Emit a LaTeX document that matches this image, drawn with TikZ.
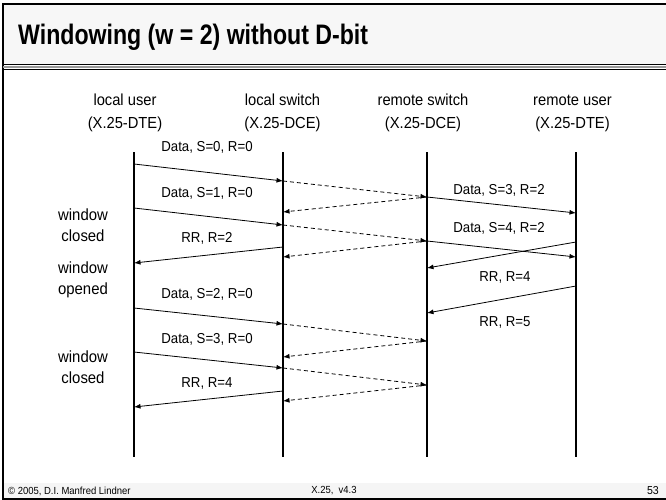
\documentclass[tikz,border=0pt]{standalone}
\usepackage{fontspec}
\setmainfont{Liberation Sans}[FakeStretch=0.92]
\newfontfamily\titlefont{Liberation Sans}[FakeStretch=0.82]
\usetikzlibrary{arrows.meta}
\begin{document}
\begin{tikzpicture}[x=1pt,y=-1pt,
  lifeline/.style={line width=1.8pt},
  msg/.style={line width=0.8pt,-{Latex[length=6.5pt,width=5pt]}},
  relay/.style={msg,dash pattern=on 4pt off 3pt},
  lbl/.style={font=\fontsize{14.4}{16}\selectfont,inner sep=0pt},
  hdr/.style={font=\fontsize{16}{23}\selectfont,align=center,inner sep=0pt},
  side/.style={font=\fontsize{16.2}{20.5}\selectfont,align=center,inner sep=0pt},
  foot/.style={font=\fontsize{10.3}{11}\selectfont,inner sep=0pt}]
\useasboundingbox (0,0) rectangle (666,500);

% slide frame, title bar and footer strip
\fill[black!3] (3,4) rectangle (666,64);
\fill[black!4] (4,483) rectangle (666,498);
\draw[line width=2pt] (666,4) -- (3,4) -- (3,499) -- (666,499);
\draw[line width=1.5pt] (3,64.5) -- (666,64.5);
\draw[line width=1.4pt, black!40] (3,67) -- (666,67);
\draw[line width=1.5pt] (3,69.5) -- (666,69.5);

\node[anchor=base west, inner sep=0pt,
      font=\titlefont\bfseries\fontsize{28.2}{32}\selectfont] (title) at (18,45)
  {Windowing (w = 2) without D-bit};

% stations
\node[hdr] (hu) at (125,112.5) {\strut local user\\\strut(X.25-DTE)};
\node[hdr] (hs) at (282.5,112.5) {\strut local switch\\\strut(X.25-DCE)};
\node[hdr] (hr) at (423,112.5) {\strut remote switch\\\strut(X.25-DCE)};
\node[hdr] (hd) at (572.5,112.5) {\strut remote user\\\strut(X.25-DTE)};

% lifelines
\foreach \n/\x in {u/134, s/283, r/427, d/576} {
  \coordinate (\n top) at (\x,152);
  \coordinate (\n bot) at (\x,457);
  \draw[lifeline] (\n top) -- (\n bot);
}

% event points on the lifelines
\foreach \y in {164,208,263,308,352,407} \coordinate (u\y) at (134,\y);
\foreach \y in {181,212,225,247,257,324,357,368,391,401} \coordinate (s\y) at (283,\y);
\foreach \y in {197,241,268,313,341,385} \coordinate (r\y) at (427,\y);
\foreach \y in {213,242,257,286} \coordinate (d\y) at (576,\y);

% first window
\draw[msg] (u164) -- (s181);
\draw[relay] (s181) -- (r197);
\draw[msg] (r197) -- (d213);
\draw[relay] (r197) -- (s212);
\draw[msg] (u208) -- (s225);
\draw[relay] (s225) -- (r241);
\draw[relay] (r241) -- (s257);
\draw[msg] (r241) -- (d257);
\draw[msg] (s247) -- (u263);
\draw[msg] (d242) -- (r268);
\draw[msg] (d286) -- (r313);

% second window
\draw[msg] (u308) -- (s324);
\draw[relay] (s324) -- (r341);
\draw[relay] (r341) -- (s357);
\draw[msg] (u352) -- (s368);
\draw[relay] (s368) -- (r385);
\draw[relay] (r385) -- (s401);
\draw[msg] (s391) -- (u407);

% packet labels
\node[lbl] (l1) at (207,147) {Data, S=0, R=0};
\node[lbl] (l2) at (207,193) {Data, S=1, R=0};
\node[lbl] (l3) at (207,238) {RR, R=2};
\node[lbl] (l4) at (207,294) {Data, S=2, R=0};
\node[lbl] (l5) at (207,339) {Data, S=3, R=0};
\node[lbl] (l6) at (207,383) {RR, R=4};
\node[lbl] (r1) at (499,190) {Data, S=3, R=2};
\node[lbl] (r2) at (499,228) {Data, S=4, R=2};
\node[lbl] (r3) at (505,277) {RR, R=4};
\node[lbl] (r4) at (505,322) {RR, R=5};

% window state notes
\node[side] (w1) at (83,225) {window\\closed};
\node[side] (w2) at (83,280) {window\\opened};
\node[side] (w3) at (83,367) {window\\closed};

% footer
\node[foot, anchor=west] (f1) at (8,491) {© 2005, D.I. Manfred Lindner};
\node[foot] (f2) at (334,491) {X.25,\ \ v4.3};
\node[foot, anchor=east, font=\fontsize{11.5}{12}\selectfont] (f3) at (659,491) {53};
\end{tikzpicture}
\end{document}
